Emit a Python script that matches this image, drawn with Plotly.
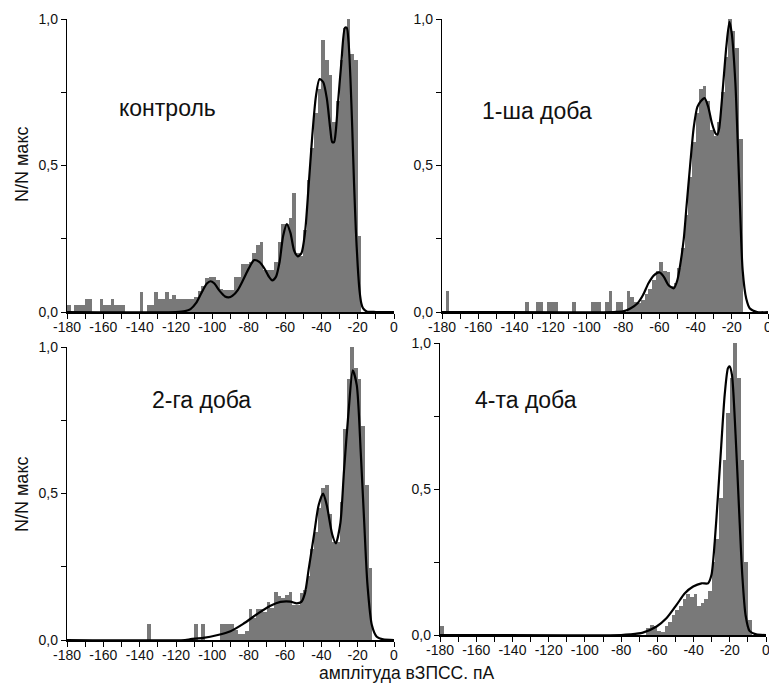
import plotly.graph_objects as go

W, H = 769, 685

# ---------------- data (bin centres in pA, bin width 2 pA; heights N/Nmax) ----------------
ctrl_bins = [-179, -175, -173, -171, -169, -167, -161, -159, -157, -155, -153, -151, -149, -139,
             -135, -133, -131, -129, -127, -125, -123, -121, -119, -117, -115, -113, -111,
             -109, -107, -105, -103, -101, -99, -97, -95, -93, -91, -89, -87, -85, -83, -81,
             -79, -77, -75, -73, -71, -69, -67, -65, -63, -61, -59, -57, -55, -53, -51, -49,
             -47, -45, -43, -41, -39, -37, -35, -33, -31, -29, -27, -25, -23, -21, -19]
ctrl_hist = [0.023, 0.023, 0.023, 0.023, 0.046, 0.046, 0.046, 0.023, 0.023, 0.046, 0.023, 0.023, 0.023, 0.069,
             0.023, 0.023, 0.069, 0.046, 0.046, 0.069, 0.046, 0.058, 0.046, 0.046, 0.046, 0.046, 0.046,
             0.05, 0.07, 0.09, 0.115, 0.12, 0.12, 0.11, 0.08, 0.075, 0.075, 0.075, 0.12, 0.12, 0.165, 0.165,
             0.17, 0.20, 0.23, 0.24, 0.145, 0.145, 0.145, 0.17, 0.24, 0.30, 0.30, 0.32, 0.405, 0.20, 0.19, 0.28,
             0.45, 0.56, 0.68, 0.76, 0.93, 0.86, 0.81, 0.65, 0.72, 0.86, 0.97, 1.0, 0.88, 0.86, 0.26]
ctrl_fit_x = [-180, -120, -115, -112, -109, -106, -103, -101, -99, -96, -93, -91, -89, -86, -83, -80,
              -77, -74, -71, -69, -67, -65, -63, -61, -59, -57, -55, -53, -51, -49, -47, -45, -43,
              -41, -39, -37, -35, -34, -33, -32, -31, -29, -27, -26, -25, -24, -23, -22, -21, -20,
              -19, -18, -17, -15, -10, 0]
ctrl_fit_y = [0, 0, 0.003, 0.01, 0.03, 0.065, 0.097, 0.105, 0.098, 0.072, 0.053, 0.05, 0.055, 0.075, 0.11, 0.148,
              0.177, 0.17, 0.145, 0.122, 0.108, 0.12, 0.17, 0.26, 0.30, 0.27, 0.21, 0.19, 0.20, 0.27, 0.43, 0.60, 0.735,
              0.795, 0.785, 0.73, 0.62, 0.58, 0.58, 0.62, 0.70, 0.85, 0.97, 0.97, 0.92, 0.80, 0.63, 0.44, 0.28, 0.16,
              0.075, 0.03, 0.012, 0.002, 0, 0]

d1_bins = [-177, -133, -127, -125, -121, -119, -117, -107, -97, -95, -93, -89, -87, -83, -81,
           -77, -75, -73, -71, -69, -67, -65, -63, -61, -59, -57, -55, -53, -51, -49, -47, -45,
           -43, -41, -39, -37, -35, -33, -31, -29, -27, -25, -23, -21, -19, -17, -15]
d1_hist = [0.07, 0.035, 0.035, 0.035, 0.035, 0.035, 0.035, 0.035, 0.035, 0.035, 0.035, 0.035, 0.07, 0.035, 0.035,
           0.07, 0.05, 0.035, 0.03, 0.04, 0.06, 0.08, 0.11, 0.14, 0.17, 0.14, 0.135, 0.09, 0.10, 0.15, 0.22, 0.33,
           0.46, 0.58, 0.68, 0.76, 0.77, 0.72, 0.62, 0.60, 0.65, 0.75, 0.87, 1.0, 0.96, 0.90, 0.59]
d1_fit_x = [-180, -85, -80, -76, -72, -69, -66, -63, -60, -57.5, -55, -52, -50, -48.5, -46.5, -45, -43,
            -41, -39, -37, -35, -33, -31, -29, -28, -27, -25, -23, -21.3, -20, -18, -16.7, -15.4, -14,
            -12, -10, -6, 0]
d1_fit_y = [0, 0, 0.002, 0.012, 0.03, 0.058, 0.098, 0.125, 0.135, 0.12, 0.092, 0.081, 0.11, 0.16, 0.25, 0.36, 0.50,
            0.63, 0.70, 0.72, 0.73, 0.70, 0.645, 0.61, 0.605, 0.625, 0.758, 0.906, 0.99, 0.95, 0.78, 0.576, 0.348, 0.143,
            0.045, 0.012, 0, 0]

d2_bins = [-135, -109, -105, -95, -93, -91, -89, -87, -85, -83, -81, -79, -77, -75, -73, -71, -69, -67,
           -65, -63, -61, -59, -57, -55, -53, -51, -49, -47, -45, -43, -41, -39, -37, -35, -33, -31,
           -29, -27, -25, -23, -21, -19, -17, -15, -13]
d2_hist = [0.055, 0.055, 0.055, 0.055, 0.055, 0.055, 0.055, 0.035, 0.02, 0.02, 0.03, 0.105, 0.075, 0.105, 0.105,
           0.095, 0.13, 0.11, 0.165, 0.15, 0.145, 0.155, 0.165, 0.12, 0.12, 0.16, 0.17, 0.22, 0.31, 0.37, 0.45,
           0.52, 0.53, 0.43, 0.335, 0.335, 0.47, 0.72, 0.89, 1.0, 0.93, 0.89, 0.73, 0.53, 0.245]
d2_fit_x = [-180, -115, -112, -105, -97, -90, -83, -75, -68, -62.5, -57, -53.5, -51, -49, -47, -44, -41.5,
            -39, -37, -34, -32, -29.5, -27.5, -25, -22.7, -20.5, -18.3, -16.5, -14.6, -12.2, -9.5, -6, 0]
d2_fit_y = [0, 0, 0.003, 0.007, 0.017, 0.03, 0.055, 0.09, 0.117, 0.13, 0.131, 0.125, 0.13, 0.16, 0.24, 0.36, 0.46,
            0.50, 0.46, 0.36, 0.33, 0.40, 0.58, 0.78, 0.92, 0.87, 0.64, 0.415, 0.188, 0.051, 0.011, 0.002, 0]

d4_bins = [-179, -65, -63, -61, -59, -57, -55, -53, -51, -49, -47, -45, -43, -41, -39, -37, -35, -33,
           -31, -29, -27, -25, -23, -21, -19, -17, -15, -13, -11, -9]
d4_hist = [0.03, 0.023, 0.035, 0.03, 0.015, 0.012, 0.03, 0.045, 0.07, 0.085, 0.10, 0.125, 0.14, 0.13, 0.14,
           0.10, 0.11, 0.125, 0.15, 0.25, 0.33, 0.47, 0.60, 0.76, 0.88, 1.0, 0.88, 0.60, 0.25, 0.05]
d4_fit_x = [-180, -80, -75, -68, -60.4, -55, -49.4, -44.8, -40.2, -35.6, -32, -30.1, -28.3, -26.5, -24.7,
            -22.8, -21, -20.1, -18.8, -16.8, -14.9, -13.1, -11.3, -9.1, -5.4, 0]
d4_fit_y = [0, 0, 0.002, 0.008, 0.029, 0.057, 0.103, 0.143, 0.166, 0.177, 0.177, 0.206, 0.32, 0.48, 0.65,
            0.823, 0.914, 0.92, 0.891, 0.686, 0.434, 0.206, 0.069, 0.014, 0.002, 0]

panel_labels = ["контроль", "1-ша доба", "2-га доба", "4-та доба"]
x_tick_vals = [-180, -160, -140, -120, -100, -80, -60, -40, -20, 0]
x_tick_text = ["-180", "-160", "-140", "-120", "-100", "-80", "-60", "-40", "-20", "0"]
x_minor_vals = [-170, -150, -130, -110, -90, -70, -50, -30, -10]
y_tick_vals = [0, 0.5, 1.0]
y_tick_text = ["0,0", "0,5", "1,0"]
y_minor_vals = [0.25, 0.75]
y_title = "N/N макс"
x_title = "амплітуда вЗПСС. пА"

# ---------------- figure ----------------
FONT = "Liberation Sans, Arial, sans-serif"
BAR = "#797979"
fig = go.Figure()

series = [
    (ctrl_bins, ctrl_hist, ctrl_fit_x, ctrl_fit_y),
    (d1_bins, d1_hist, d1_fit_x, d1_fit_y),
    (d2_bins, d2_hist, d2_fit_x, d2_fit_y),
    (d4_bins, d4_hist, d4_fit_x, d4_fit_y),
]
for i, (bx, bh, fx, fy) in enumerate(series):
    xa = "x" if i == 0 else f"x{i+1}"
    ya = "y" if i == 0 else f"y{i+1}"
    fig.add_trace(go.Bar(x=bx, y=bh, width=2, marker=dict(color=BAR, line=dict(width=0)),
                         xaxis=xa, yaxis=ya, showlegend=False, hoverinfo="skip"))
    fig.add_trace(go.Scatter(x=fx, y=fy, mode="lines",
                             line=dict(color="black", width=2.2, shape="spline", smoothing=0.7),
                             xaxis=xa, yaxis=ya, showlegend=False, hoverinfo="skip"))

# plot-area pixel boxes: (left, right, top, bottom)
boxes = [(67, 394, 19, 312), (442, 768, 19, 312), (67, 394, 347, 640), (440, 766, 343, 635)]

def xdom(l, r):
    return [l / W, r / W]

def ydom(t, b):
    return [1 - b / H, 1 - t / H]

layout_axes = {}
for i, (l, r, t, b) in enumerate(boxes):
    xn = "xaxis" if i == 0 else f"xaxis{i+1}"
    yn = "yaxis" if i == 0 else f"yaxis{i+1}"
    anchor_x = "y" if i == 0 else f"y{i+1}"
    anchor_y = "x" if i == 0 else f"x{i+1}"
    layout_axes[xn] = dict(
        domain=xdom(l, r), anchor=anchor_x, range=[-180, 0], showgrid=False, zeroline=False,
        automargin=False, ticklabeloverflow="allow", ticklabelstandoff=-3,
        showline=True, linecolor="black", linewidth=1.5,
        tickmode="array", tickvals=x_tick_vals, ticktext=x_tick_text,
        ticks="outside", ticklen=5, tickwidth=1, tickcolor="black",
        minor=dict(tickvals=x_minor_vals, ticks="outside", ticklen=5, tickwidth=1, tickcolor="black"),
        tickfont=dict(family=FONT, size=14, color="#111"), fixedrange=True,
    )
    layout_axes[yn] = dict(
        domain=ydom(t, b), anchor=anchor_y, range=[0, 1.0], showgrid=False, zeroline=False,
        automargin=False,
        showline=True, linecolor="black", linewidth=1.2,
        tickmode="array", tickvals=y_tick_vals, ticktext=y_tick_text,
        ticks="outside", ticklen=5, tickwidth=1, tickcolor="black",
        minor=dict(tickvals=y_minor_vals, ticks="outside", ticklen=5, tickwidth=1, tickcolor="black"),
        tickfont=dict(family=FONT, size=14, color="#111"), fixedrange=True,
    )

annotations = []
label_pos = [(167, 108), (537, 111), (202, 400), (526, 400)]
for txt, (px, py) in zip(panel_labels, label_pos):
    annotations.append(dict(text=txt, x=px / W, y=1 - py / H, xref="paper", yref="paper",
                            xanchor="center", yanchor="middle", showarrow=False,
                            font=dict(family=FONT, size=23, color="#111")))
for py in (165, 495):
    annotations.append(dict(text=y_title, x=22 / W, y=1 - py / H, xref="paper", yref="paper",
                            xanchor="center", yanchor="middle", textangle=-90, showarrow=False,
                            font=dict(family=FONT, size=18, color="#111")))
annotations.append(dict(text=x_title, x=406 / W, y=1 - 673 / H, xref="paper", yref="paper",
                        xanchor="center", yanchor="middle", showarrow=False,
                        font=dict(family=FONT, size=17.5, color="#111")))

fig.update_layout(
    width=W, height=H, margin=dict(l=0, r=0, t=0, b=0, autoexpand=False),
    paper_bgcolor="white", plot_bgcolor="white", bargap=0,
    annotations=annotations, **layout_axes,
)

fig.write_html("out.html", config={"displayModeBar": False, "staticPlot": True},
               post_script="document.body.style.margin='0';document.body.style.padding='0';")
